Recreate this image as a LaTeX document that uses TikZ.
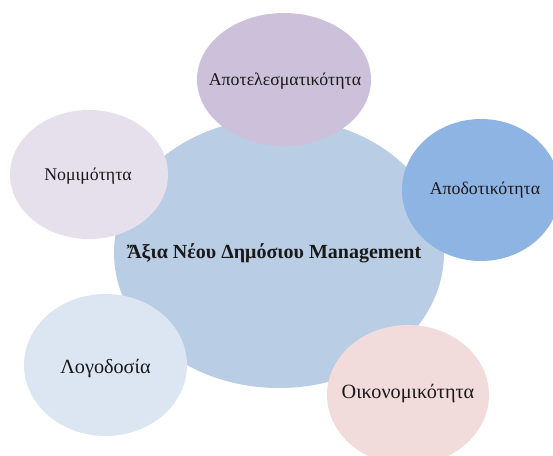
\documentclass[tikz,border=0pt]{standalone}
\usepackage{fontspec}
\setmainfont{Liberation Serif}
\usetikzlibrary{shapes.geometric}
\definecolor{coreblue}{HTML}{B9CDE5}
\definecolor{lilac}{HTML}{CCC0DA}
\definecolor{midblue}{HTML}{8EB4E3}
\definecolor{rosepink}{HTML}{F2DCDB}
\definecolor{paleblue}{HTML}{DCE6F2}
\definecolor{palelilac}{HTML}{E6E0EC}
\tikzset{
  bubble/.style={ellipse, inner sep=0pt, draw=none},
  caption/.style={inner sep=0pt, text=black!90},
  smalltext/.style={caption, font=\fontsize{17.8}{20}\selectfont},
  largetext/.style={caption, font=\fontsize{20.2}{22}\selectfont},
}
\begin{document}
\begin{tikzpicture}[x=1pt, y=-1pt]
\useasboundingbox (0,0) rectangle (553,455);
% central value
\node[bubble, fill=coreblue, minimum width=330pt, minimum height=270pt] (core) at (279,253) {};
% surrounding values
\node[bubble, fill=lilac, minimum width=174pt, minimum height=133pt] (eff) at (284,79.5) {};
\node[bubble, fill=palelilac, minimum width=158pt, minimum height=129pt] (legal) at (89,174.5) {};
\node[bubble, fill=midblue, minimum width=158pt, minimum height=142pt] (perf) at (481,190) {};
\node[bubble, fill=paleblue, minimum width=163pt, minimum height=142pt] (acct) at (105.5,365) {};
\node[bubble, fill=rosepink, minimum width=162pt, minimum height=140pt] (econ) at (408,395) {};
% captions
\node[caption, font=\fontsize{20}{22}\selectfont\bfseries] (coreL)
  at ([xshift=-5pt]core.center) {Ἄξια Νέου Δημόσιου Management};
\node[smalltext] (effL) at ([xshift=1pt,yshift=-2pt]eff.center) {Αποτελεσματικότητα};
\node[smalltext] (legalL) at ([xshift=-1pt,yshift=-2pt]legal.center) {Νομιμότητα};
\node[smalltext] (perfL) at ([xshift=4pt]perf.center) {Αποδοτικότητα};
\node[largetext] (acctL) at ([yshift=-4pt]acct.center) {Λογοδοσία};
\node[largetext] (econL) at ([yshift=1pt]econ.center) {Οικονομικότητα};
\end{tikzpicture}
\end{document}
